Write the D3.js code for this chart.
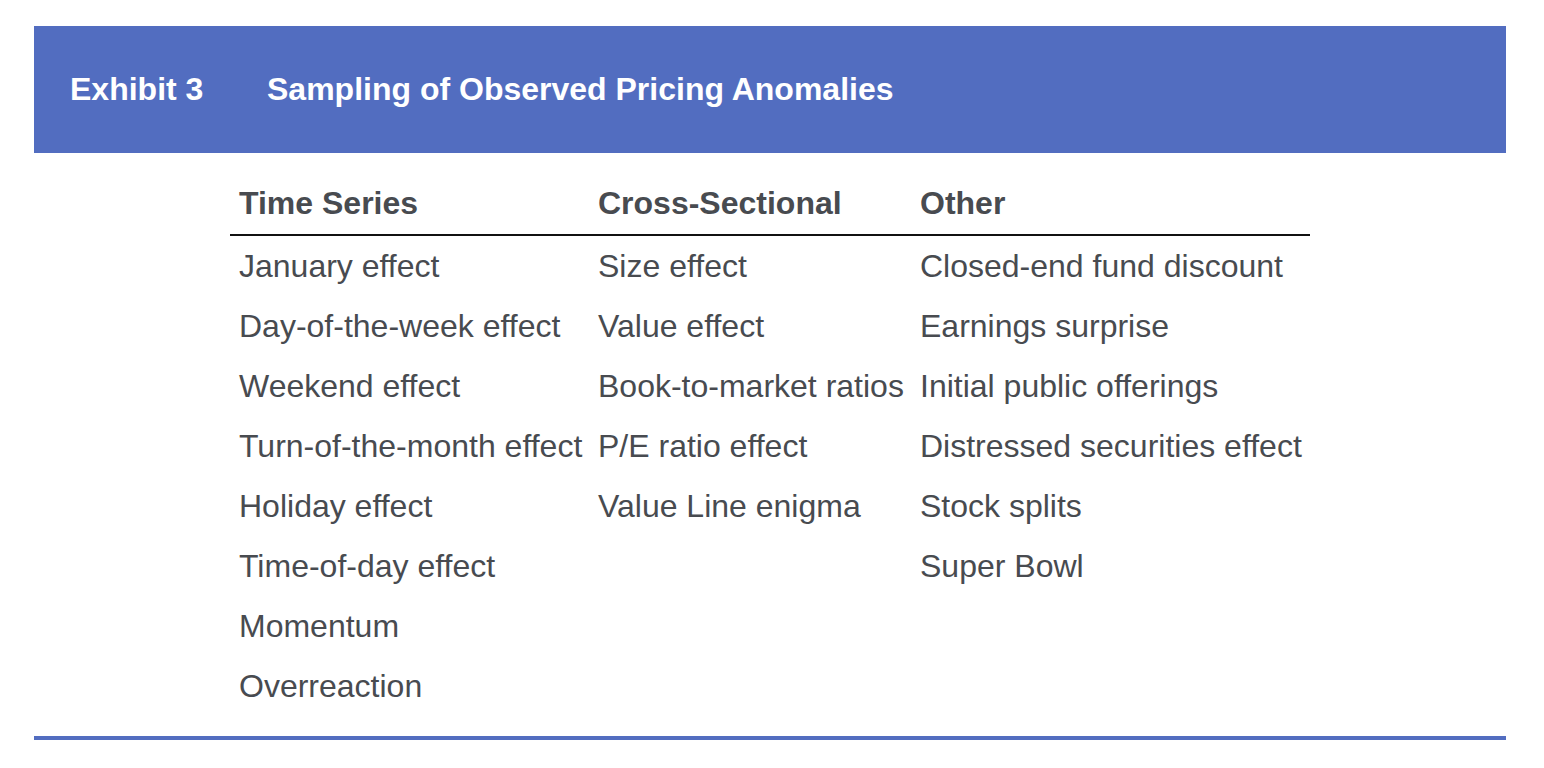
<!DOCTYPE html>
<html>
<head>
<meta charset="utf-8">
<script src="https://cdn.jsdelivr.net/npm/d3@7"></script>
<style>
  body { margin: 0; background: #fff; }
  text { font-family: 'Liberation Sans', Arial, Helvetica, sans-serif; }
</style>
</head>
<body>
<svg id="chart" width="1544" height="768"></svg>
<script>
// exhibit data
const exhibitLabel = 'Exhibit 3'
const exhibitTitle = 'Sampling of Observed Pricing Anomalies'
const columns = ['Time Series', 'Cross-Sectional', 'Other']
const timeSeries = ['January effect', 'Day-of-the-week effect', 'Weekend effect', 'Turn-of-the-month effect',
  'Holiday effect', 'Time-of-day effect', 'Momentum', 'Overreaction']
const crossSectional = ['Size effect', 'Value effect', 'Book-to-market ratios', 'P/E ratio effect', 'Value Line enigma']
const other = ['Closed-end fund discount', 'Earnings surprise', 'Initial public offerings',
  'Distressed securities effect', 'Stock splits', 'Super Bowl']

const blue = '#526dc0'
const ink = '#484b50'
const fontSize = 32

const svg = d3.select('#chart')

// header band
svg.append('rect')
  .attr('x', 34).attr('y', 26)
  .attr('width', 1472).attr('height', 127)
  .attr('fill', blue)

svg.append('text')
  .attr('x', 70).attr('y', 100)
  .attr('fill', '#fff').attr('font-weight', 'bold').attr('font-size', fontSize)
  .text(exhibitLabel)
svg.append('text')
  .attr('x', 267).attr('y', 100)
  .attr('fill', '#fff').attr('font-weight', 'bold').attr('font-size', fontSize)
  .text(exhibitTitle)

// column and row scales
const x = d3.scaleOrdinal().domain(columns).range([239, 598, 920])
const y = d3.scaleLinear().domain([0, 1]).range([276.5, 336.5]) // row baseline

svg.selectAll('text.colhead')
  .data(columns)
  .enter().append('text')
  .attr('class', 'colhead')
  .attr('x', d => x(d))
  .attr('y', 213.5)
  .attr('fill', ink).attr('font-weight', 'bold').attr('font-size', fontSize)
  .text(d => d)

// rule under the column heads
svg.append('line')
  .attr('x1', 230).attr('x2', 1310)
  .attr('y1', 235).attr('y2', 235)
  .attr('stroke', '#111').attr('stroke-width', 2)

const lists = [timeSeries, crossSectional, other]
lists.forEach(function (items, c) {
  svg.selectAll('text.c' + c)
    .data(items)
    .enter().append('text')
    .attr('class', 'cell c' + c)
    .attr('x', x(columns[c]))
    .attr('y', (d, i) => y(i))
    .attr('fill', ink).attr('font-size', fontSize)
    .text(d => d)
})

// bottom rule
svg.append('line')
  .attr('x1', 34).attr('x2', 1506)
  .attr('y1', 738).attr('y2', 738)
  .attr('stroke', blue).attr('stroke-width', 4)
</script>
</body>
</html>
